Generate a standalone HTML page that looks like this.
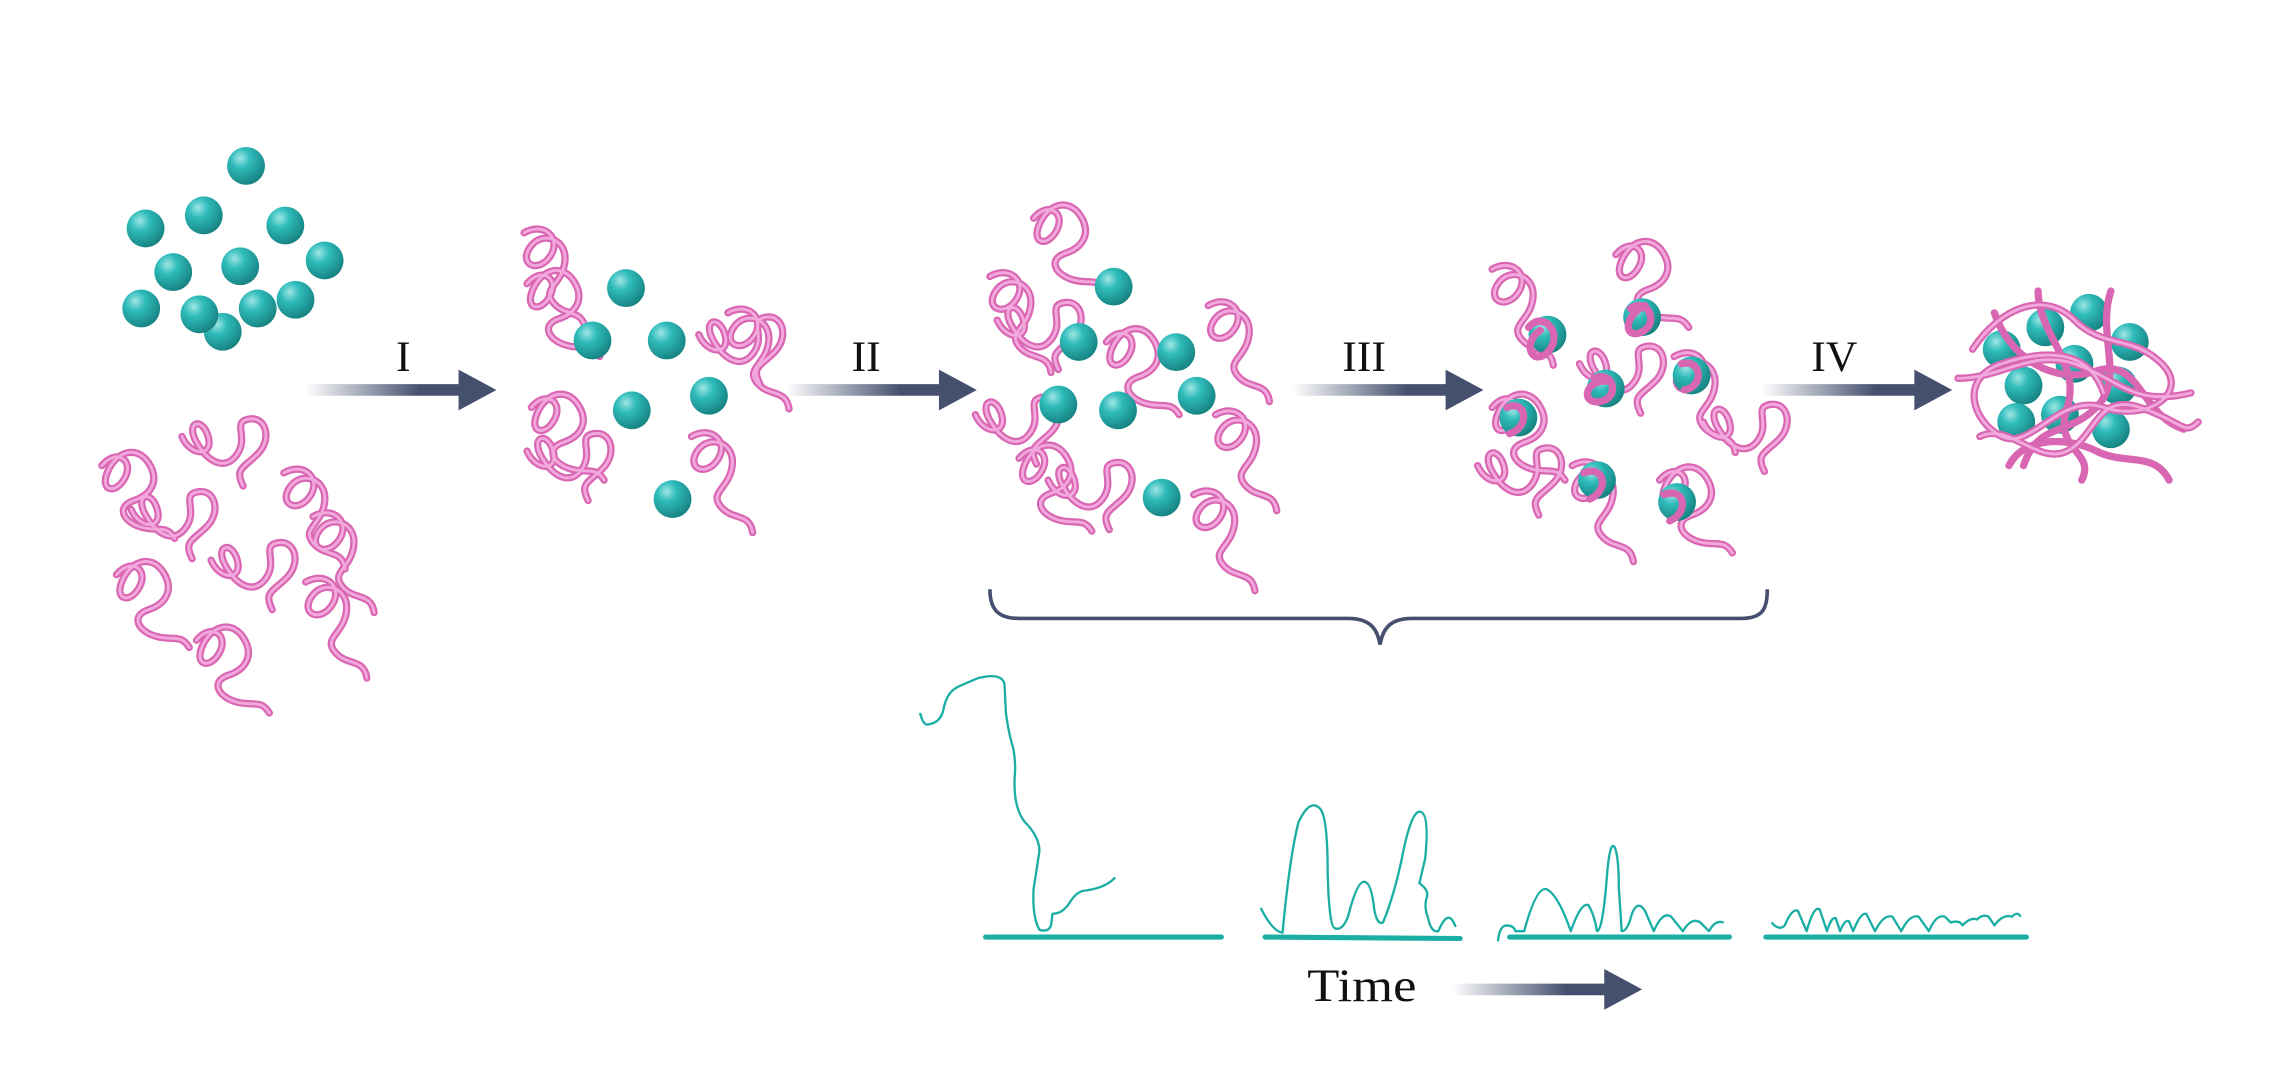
<!DOCTYPE html>
<html><head><meta charset="utf-8"><style>html,body{margin:0;padding:0;background:#fff}svg{display:block}</style></head>
<body>
<svg width="2271" height="1084" viewBox="0 0 1560 745" preserveAspectRatio="none" xmlns="http://www.w3.org/2000/svg">
<defs>
<radialGradient id="sp" cx="0.35" cy="0.3" r="0.75">
<stop offset="0" stop-color="#9fe6e4"/><stop offset="0.35" stop-color="#2fbcbb"/><stop offset="1" stop-color="#15807f"/>
</radialGradient>
<linearGradient id="ar" x1="0" x2="1" y1="0" y2="0">
<stop offset="0" stop-color="#44506e" stop-opacity="0"/><stop offset="0.6" stop-color="#44506e"/><stop offset="1" stop-color="#44506e"/>
</linearGradient>
<g id="w1"><path d="M0 0c10-12 22-4 16 8s-18 10-12-4 20-18 28-6 2 22-10 26-8 14 4 18 18-2 24 8" /></g>
<g id="w2"><path d="M0 0c6 14 22 14 18 0s-16-10-8 4 20 20 28 8 -4-22 8-24 16 14 6 24 -16 10-10 22" /></g>
<g id="w3"><path d="M0 0c14-8 26 4 18 16s-22 6-14-6 26-6 24 10 -16 18-8 28 20 4 22 18" /></g>
<symbol id="s" overflow="visible"><circle r="13" fill="url(#sp)"/></symbol>
</defs>
<style>
.wo{fill:none;stroke:#d966b2;stroke-width:5;stroke-linecap:round;stroke-linejoin:round}
.wi{fill:none;stroke:#f2a8dc;stroke-width:2;stroke-linecap:round}
.g{fill:none;stroke:#1aaea4;stroke-width:1.6;stroke-linejoin:round}
.b{stroke:#1aaea4;stroke-width:3.5;stroke-linecap:round}
</style>

<g>
<use href="#s" x="169" y="114"/><use href="#s" x="140" y="148"/><use href="#s" x="100" y="157"/><use href="#s" x="196" y="155"/>
<use href="#s" x="119" y="187"/><use href="#s" x="165" y="183"/><use href="#s" x="223" y="179"/><use href="#s" x="97" y="212"/>
<use href="#s" x="153" y="228"/><use href="#s" x="137" y="216"/><use href="#s" x="203" y="206"/><use href="#s" x="177" y="212"/>
</g>

<g class="wo">
<use href="#w1" x="70" y="320"/><use href="#w2" x="125" y="300"/><use href="#w3" x="195" y="325"/>
<use href="#w1" x="80" y="395"/><use href="#w2" x="145" y="385"/><use href="#w3" x="210" y="400"/>
<use href="#w1" x="135" y="440"/><use href="#w2" x="90" y="350"/><use href="#w3" x="215" y="355"/>
<use href="#w3" x="360" y="160"/><use href="#w1" x="362" y="195"/><use href="#w2" x="480" y="230"/><use href="#w3" x="500" y="215"/>
<use href="#w1" x="365" y="280"/><use href="#w2" x="362" y="310"/><use href="#w3" x="475" y="300"/>
<use href="#w1" x="710" y="150"/><use href="#w3" x="680" y="190"/><use href="#w2" x="685" y="220"/><use href="#w1" x="760" y="235"/>
<use href="#w3" x="830" y="210"/><use href="#w2" x="670" y="285"/><use href="#w1" x="700" y="315"/><use href="#w3" x="835" y="285"/>
<use href="#w2" x="720" y="330"/><use href="#w3" x="820" y="340"/>
<use href="#w3" x="1025" y="185"/><use href="#w1" x="1110" y="175"/><use href="#w2" x="1085" y="250"/><use href="#w3" x="1150" y="245"/>
<use href="#w1" x="1025" y="280"/><use href="#w2" x="1015" y="320"/><use href="#w3" x="1080" y="320"/><use href="#w1" x="1140" y="330"/>
<use href="#w2" x="1170" y="290"/>
</g>
<g class="wi">
<use href="#w1" x="70" y="320"/><use href="#w2" x="125" y="300"/><use href="#w3" x="195" y="325"/>
<use href="#w1" x="80" y="395"/><use href="#w2" x="145" y="385"/><use href="#w3" x="210" y="400"/>
<use href="#w1" x="135" y="440"/><use href="#w2" x="90" y="350"/><use href="#w3" x="215" y="355"/>
<use href="#w3" x="360" y="160"/><use href="#w1" x="362" y="195"/><use href="#w2" x="480" y="230"/><use href="#w3" x="500" y="215"/>
<use href="#w1" x="365" y="280"/><use href="#w2" x="362" y="310"/><use href="#w3" x="475" y="300"/>
<use href="#w1" x="710" y="150"/><use href="#w3" x="680" y="190"/><use href="#w2" x="685" y="220"/><use href="#w1" x="760" y="235"/>
<use href="#w3" x="830" y="210"/><use href="#w2" x="670" y="285"/><use href="#w1" x="700" y="315"/><use href="#w3" x="835" y="285"/>
<use href="#w2" x="720" y="330"/><use href="#w3" x="820" y="340"/>
<use href="#w3" x="1025" y="185"/><use href="#w1" x="1110" y="175"/><use href="#w2" x="1085" y="250"/><use href="#w3" x="1150" y="245"/>
<use href="#w1" x="1025" y="280"/><use href="#w2" x="1015" y="320"/><use href="#w3" x="1080" y="320"/><use href="#w1" x="1140" y="330"/>
<use href="#w2" x="1170" y="290"/>
</g>

<use href="#s" x="430" y="198"/><use href="#s" x="407" y="234"/><use href="#s" x="458" y="234"/><use href="#s" x="487" y="272"/><use href="#s" x="434" y="282"/><use href="#s" x="462" y="343"/>
<use href="#s" x="765" y="197"/><use href="#s" x="741" y="235"/><use href="#s" x="808" y="242"/><use href="#s" x="727" y="278"/><use href="#s" x="768" y="282"/><use href="#s" x="822" y="272"/><use href="#s" x="798" y="342"/>
<use href="#s" x="1063" y="230"/><use href="#s" x="1128" y="218"/><use href="#s" x="1103" y="267"/><use href="#s" x="1162" y="258"/><use href="#s" x="1043" y="287"/><use href="#s" x="1097" y="330"/><use href="#s" x="1152" y="345"/>
<g class="wo"><path d="M1050 225c10-12 24 4 14 16s-20-4-6-14"/><path d="M1120 212c12-8 20 10 8 16s-14-10 2-18"/><path d="M1095 260c14-6 18 14 4 16s-10-16 6-14"/><path d="M1155 250c14-4 16 16 2 18"/><path d="M1035 280c14-6 16 14 2 18"/><path d="M1088 325c14-6 18 12 4 18"/><path d="M1143 340c14-6 18 12 4 18"/></g>

<g>
<use href="#s" x="1375" y="240"/><use href="#s" x="1405" y="225"/><use href="#s" x="1435" y="215"/><use href="#s" x="1463" y="235"/>
<use href="#s" x="1390" y="265"/><use href="#s" x="1425" y="250"/><use href="#s" x="1455" y="265"/><use href="#s" x="1415" y="285"/>
<use href="#s" x="1450" y="295"/><use href="#s" x="1385" y="290"/>
</g>
<g class="wo">
<path d="M1355 240c20-30 50-40 70-20s40 10 60 30-10 40-40 30-50 30-70 20-30-40 0-50 60-10 70 20"/>
<path d="M1370 215c10 30 40 50 70 40s30 30 60 40"/>
<path d="M1360 300c20-10 40 20 60 10s20-40 50-30 30 20 40 10"/>
<path d="M1400 200c0 30 30 50 20 80s20 30 10 50"/>
<path d="M1450 200c-10 30 10 60-10 80s-40 10-50 40"/>
<path d="M1345 260c30 0 50-20 80-10s40 30 80 20"/>
<path d="M1380 320c10-20 40-20 60-10s40 0 50 20"/>
</g>
<g class="wi">
<path d="M1355 240c20-30 50-40 70-20s40 10 60 30-10 40-40 30-50 30-70 20-30-40 0-50 60-10 70 20"/>
<path d="M1360 300c20-10 40 20 60 10s20-40 50-30 30 20 40 10"/>
<path d="M1345 260c30 0 50-20 80-10s40 30 80 20"/>
</g>

<g fill="url(#ar)">
<path d="M210 264h105v-10l26 14-26 14v-10h-105z"/>
<path d="M540 264h105v-10l26 14-26 14v-10h-105z"/>
<path d="M888 264h105v-10l26 14-26 14v-10h-105z"/>
<path d="M1210 264h105v-10l26 14-26 14v-10h-105z"/>
<path d="M997 676h105v-10l26 14-26 14v-10h-105z"/>
</g>
<g font-family="Liberation Serif, serif" font-size="30" fill="#111" text-anchor="middle">
<text x="277" y="255">I</text><text x="595" y="255">II</text><text x="937" y="255">III</text><text x="1260" y="255">IV</text>
</g>
<text x="898" y="688" font-family="Liberation Serif, serif" font-size="32" fill="#111" textLength="75" lengthAdjust="spacingAndGlyphs">Time</text>

<path d="M680 405c0 12 4 20 20 20h226c14 0 20 6 22 18c2-12 8-18 22-18h226c16 0 18-8 18-20" fill="none" stroke="#44506e" stroke-width="2.5"/>

<line class="b" x1="677" y1="644" x2="839" y2="644"/>
<line class="b" x1="869" y1="644" x2="1003" y2="645"/>
<line class="b" x1="1037" y1="644" x2="1188" y2="644"/>
<line class="b" x1="1213" y1="644" x2="1392" y2="644"/>
<path class="g" d="M632 490 Q634 498 637 498 Q646 497 648 488 Q650 476 658 472 Q667 468 672 466 Q688 462 690 470 L691 490 Q693 505 696 514 Q698 525 697 534 Q696 555 704 565 Q714 575 714 585 L710 611 Q709 630 714 639 Q720 641 722 636 L723 628 Q730 628 735 620 Q740 612 746 612 Q760 610 766 603"/>
<path class="g" d="M866 624 Q874 640 881 641 Q886 588 892 565 Q900 548 907 556 Q912 562 912 600 Q913 637 917 638 Q922 640 926 630 Q932 606 937 606 Q942 606 944 625 Q946 636 950 634 Q958 615 964 585 Q970 556 976 558 Q982 560 979 590 L975 607 Q982 612 980 617 Q978 623 981 631 Q983 641 988 640 Q994 626 998 633 L1000 637"/>
<path class="g" d="M1029 647 Q1030 636 1035 636 Q1040 636 1041 640 L1047 640 Q1055 610 1062 611 Q1070 614 1079 640 Q1086 620 1091 622 Q1095 628 1097 640 Q1101 640 1104 600 Q1106 578 1109 582 Q1112 588 1112 610 L1114 640 Q1118 640 1121 628 Q1125 618 1130 626 L1136 640 Q1142 626 1148 630 L1156 640 Q1162 630 1168 634 L1174 640 Q1178 632 1184 634"/>
<path class="g" d="M1217 634 Q1222 640 1226 636 Q1231 624 1235 626 L1241 640 Q1246 622 1250 625 L1255 640 Q1258 630 1261 631 L1264 640 Q1267 632 1270 633 L1273 640 Q1278 627 1282 628 L1288 640 Q1294 628 1300 630 L1306 640 Q1312 628 1318 630 L1325 640 Q1330 628 1336 630 L1340 634 Q1346 632 1348 636 Q1354 630 1358 632 Q1362 628 1366 630 L1370 636 Q1376 628 1382 630 Q1386 626 1388 630"/>
</svg>
</body></html>
